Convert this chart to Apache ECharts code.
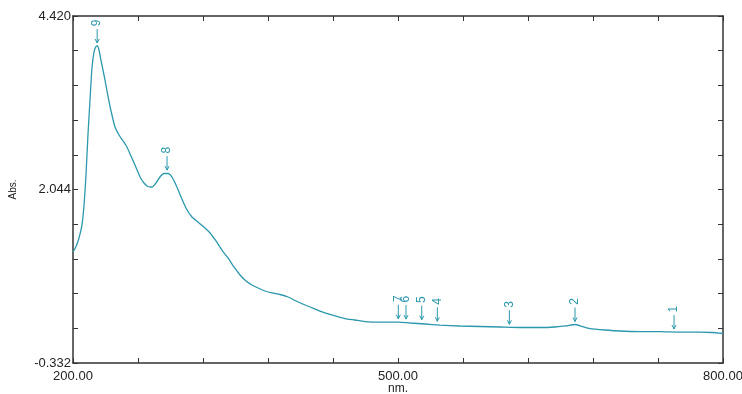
<!DOCTYPE html>
<html>
<head>
<meta charset="utf-8">
<script src="https://cdn.jsdelivr.net/npm/echarts@6/dist/echarts.min.js"></script>
<style>
  html, body { margin: 0; padding: 0; background: #fff; }
  #chart { width: 742px; height: 394px; }
</style>
</head>
<body>
<div id="chart"></div>
<script>
// spectrum, wavelength (nm) / absorbance
const wavelength = [200.0, 202.8, 205.5, 208.3, 210.2, 212.0, 213.8, 215.7, 217.5, 219.4, 221.2, 222.6, 224.0, 225.8, 227.7, 229.5, 232.3, 235.1, 238.8, 242.5, 246.2, 249.8, 253.5, 257.2, 261.9, 265.5, 269.2, 272.9, 276.6, 280.3, 284.0, 287.7, 291.4, 295.1, 299.7, 304.3, 309.8, 315.4, 320.9, 326.5, 332.0, 337.5, 343.1, 348.6, 354.2, 359.7, 365.2, 370.8, 377.2, 383.7, 391.1, 398.5, 405.9, 414.2, 423.4, 432.6, 441.9, 451.1, 460.3, 469.5, 483.4, 500.0, 511.1, 524.9, 538.8, 557.2, 575.7, 594.2, 612.6, 631.1, 645.0, 655.1, 663.4, 669.9, 677.2, 691.1, 704.9, 723.4, 741.9, 760.3, 778.8, 789.9, 800.0];
const absorbance = [1.188, 1.262, 1.380, 1.560, 1.832, 2.242, 2.790, 3.270, 3.708, 3.927, 4.002, 4.009, 3.954, 3.817, 3.680, 3.544, 3.324, 3.119, 2.900, 2.790, 2.708, 2.626, 2.503, 2.379, 2.215, 2.133, 2.085, 2.078, 2.133, 2.215, 2.263, 2.263, 2.215, 2.106, 1.941, 1.791, 1.667, 1.599, 1.530, 1.448, 1.339, 1.215, 1.106, 0.983, 0.873, 0.791, 0.736, 0.695, 0.654, 0.627, 0.606, 0.572, 0.517, 0.462, 0.407, 0.353, 0.312, 0.277, 0.257, 0.236, 0.229, 0.229, 0.216, 0.202, 0.188, 0.175, 0.168, 0.161, 0.154, 0.154, 0.161, 0.175, 0.195, 0.168, 0.140, 0.120, 0.106, 0.099, 0.099, 0.092, 0.092, 0.086, 0.072];

// peak picks
const peakNo = ['9', '8', '7', '6', '5', '4', '3', '2', '1'];
const peakNm = [222.3, 286.8, 500.3, 507.4, 521.9, 536.3, 602.8, 663.4, 754.8];
const peakAbs = [4.009, 2.268, 0.233, 0.228, 0.220, 0.198, 0.157, 0.195, 0.092];

const xTickLabels = ['200.00', '500.00', '800.00'];
const yTickLabels = ['-0.332', '2.044', '4.420'];

const lineColor = '#2b98ad';
const axisColor = '#333';
const fontFam = '"Liberation Sans", Arial, sans-serif';

const xMin = 200, xMax = 800, xStep = 60;
const yMin = -0.332, yMax = 4.420, yStep = 0.4752;

const chart = echarts.init(document.getElementById('chart'));

const baseX = {
  type: 'value', min: xMin, max: xMax, interval: xStep,
  splitLine: { show: false },
  axisLine: { show: true, onZero: false, lineStyle: { color: axisColor, width: 1.5 } },
  axisTick: { show: true, inside: true, length: 5, lineStyle: { color: axisColor } }
};
const baseY = {
  type: 'value', min: yMin, max: yMax, interval: yStep,
  splitLine: { show: false },
  axisLine: { show: true, onZero: false, lineStyle: { color: axisColor, width: 1.5 } },
  axisTick: { show: true, inside: true, length: 5, lineStyle: { color: axisColor } }
};

const option = {
  animation: false,
  backgroundColor: '#fff',
  grid: { left: 73, right: 19, top: 16, bottom: 31, containLabel: false, outerBoundsMode: 'none' },
  xAxis: [
    Object.assign({}, baseX, {
      position: 'bottom',
      name: 'nm.', nameLocation: 'middle', nameGap: 20, nameMoveOverlap: false,
      nameTextStyle: { color: '#222', fontSize: 12, fontFamily: fontFam },
      axisLabel: {
        show: true, margin: 7, color: '#222', fontSize: 13, fontFamily: fontFam,
        showMinLabel: true, showMaxLabel: true,
        formatter: v => {
          const s = v.toFixed(2);
          return xTickLabels.indexOf(s) >= 0 ? s : '';
        }
      }
    }),
    Object.assign({}, baseX, { position: 'top', axisLabel: { show: false } })
  ],
  yAxis: [
    Object.assign({}, baseY, {
      position: 'left',
      name: 'Abs.', nameLocation: 'middle', nameGap: 55, nameRotate: 90, nameMoveOverlap: false,
      nameTextStyle: { color: '#222', fontSize: 10, fontFamily: fontFam },
      axisLabel: {
        show: true, margin: 2, color: '#222', fontSize: 13, fontFamily: fontFam,
        showMinLabel: true, showMaxLabel: true,
        formatter: v => {
          const s = (Math.round(v * 1000) / 1000).toFixed(3);
          return yTickLabels.indexOf(s) >= 0 ? s : '';
        }
      }
    }),
    Object.assign({}, baseY, { position: 'right', axisLabel: { show: false } })
  ],
  series: [
    {
      type: 'line',
      data: wavelength.map((x, i) => [x, absorbance[i]]),
      showSymbol: false,
      smooth: 0.2,
      lineStyle: { color: lineColor, width: 1.3 },
      z: 3
    },
    {
      type: 'custom',
      data: peakNm.map((x, i) => [x, peakAbs[i], peakNo[i]]),
      renderItem: (params, api) => {
        const p = api.coord([api.value(0), api.value(1)]);
        const tip = p[1] - 3;
        return {
          type: 'group',
          children: [
            { type: 'line', shape: { x1: p[0], y1: tip - 14, x2: p[0], y2: tip },
              style: { stroke: lineColor, lineWidth: 1 } },
            { type: 'polyline', shape: { points: [[p[0] - 2, tip - 4], [p[0], tip], [p[0] + 2, tip - 4]] },
              style: { stroke: lineColor, lineWidth: 1, fill: null } },
            { type: 'text', x: p[0], y: tip - 20, rotation: Math.PI / 2,
              style: { text: peakNo[params.dataIndex], fill: lineColor, fontSize: 12,
                       fontFamily: fontFam, align: 'center', verticalAlign: 'middle' } }
          ]
        };
      },
      z: 4
    }
  ]
};

chart.setOption(option);
</script>
</body>
</html>
